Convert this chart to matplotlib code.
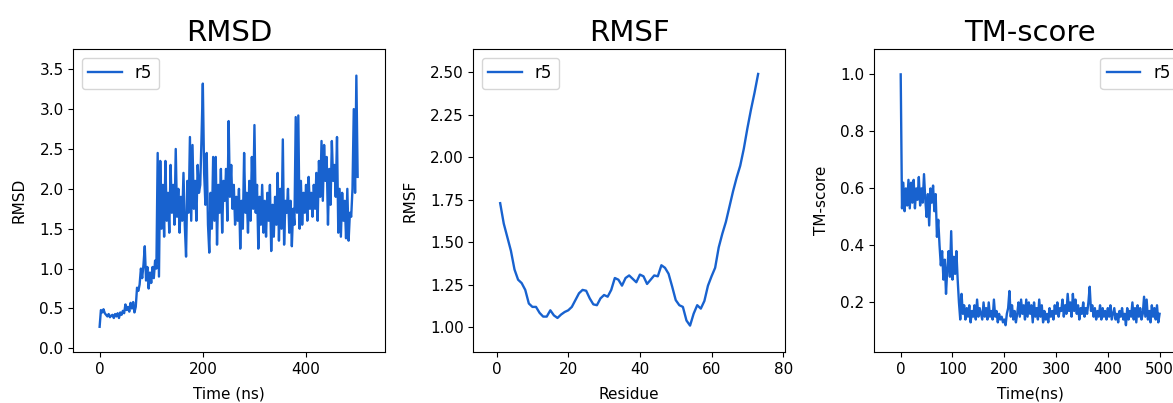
import numpy as np
import matplotlib
matplotlib.use("Agg")
import matplotlib.pyplot as plt

# ---------------- data ----------------
rmsd = [
    # 0 - 70 ns
    0.27, 0.48, 0.45, 0.49, 0.44, 0.42, 0.40, 0.43, 0.39, 0.41, 0.42, 0.38, 0.43, 0.40, 0.44,
    0.38, 0.45, 0.42, 0.47, 0.44, 0.55, 0.48, 0.52, 0.46, 0.57, 0.50, 0.58, 0.45, 0.52,
    # 72.5 - 110
    0.76, 0.72, 0.80, 1.00, 0.88, 1.05, 1.28, 0.85, 1.02, 0.75, 0.95, 0.82, 1.02, 0.88, 1.10, 1.00,
    # 112.5 - 160
    2.45, 0.90, 2.35, 1.50, 2.05, 1.40, 2.35, 1.60, 1.95, 1.45, 2.30, 1.70, 2.05, 1.55, 2.50,
    1.65, 2.00, 1.45, 1.90, 1.60,
    # 162.5 - 210
    2.20, 1.55, 1.15, 2.10, 1.70, 2.65, 1.60, 2.55, 1.75, 2.10, 1.60, 2.30, 1.95, 2.05, 2.65,
    3.32, 2.20, 1.80, 2.45, 1.55,
    # 212.5 - 260
    1.20, 1.95, 1.50, 2.40, 1.60, 2.40, 1.30, 2.05, 1.70, 2.25, 1.45, 2.10, 1.85, 2.25, 1.60,
    2.85, 1.90, 2.30, 1.75, 2.05,
    # 262.5 - 310
    1.55, 1.90, 1.60, 2.00, 1.25, 1.85, 1.50, 2.45, 1.70, 1.95, 1.45, 2.10, 1.60, 2.40, 1.75,
    2.80, 1.70, 2.05, 1.25, 1.90,
    # 312.5 - 360
    1.55, 2.05, 1.45, 1.85, 1.40, 1.95, 1.60, 2.05, 1.22, 1.80, 1.40, 1.90, 1.55, 2.20, 1.35,
    2.00, 1.50, 2.62, 1.30, 1.85,
    # 362.5 - 410
    1.70, 2.00, 1.45, 1.85, 1.28, 1.75, 1.55, 2.90, 1.70, 2.92, 1.50, 2.10, 1.55, 1.95, 1.70,
    2.05, 1.60, 2.15, 1.75, 1.95,
    # 412.5 - 460
    1.65, 2.05, 1.75, 2.20, 1.60, 2.35, 1.90, 2.60, 1.85, 2.55, 2.10, 2.40, 1.55, 2.25, 1.80,
    2.60, 2.10, 2.30, 1.90, 2.65,
    # 462.5 - 500
    1.45, 2.00, 1.40, 1.95, 1.60, 1.85, 1.38, 2.00, 1.35, 1.70, 1.65, 2.00, 3.00, 1.95, 3.42, 2.15,
]

rmsf = [
    1.73, 1.61, 1.53, 1.45, 1.34, 1.28, 1.26, 1.22, 1.14, 1.12,
    1.12, 1.085, 1.063, 1.063, 1.10, 1.07, 1.055, 1.075, 1.09, 1.10,
    1.12, 1.16, 1.20, 1.22, 1.215, 1.17, 1.135, 1.13, 1.17, 1.19,
    1.18, 1.22, 1.29, 1.28, 1.245, 1.29, 1.305, 1.285, 1.265, 1.31,
    1.30, 1.255, 1.28, 1.305, 1.30, 1.365, 1.35, 1.315, 1.24, 1.16,
    1.13, 1.12, 1.04, 1.01, 1.08, 1.13, 1.11, 1.155, 1.245, 1.30,
    1.35, 1.47, 1.55, 1.62, 1.71, 1.80, 1.88, 1.95, 2.05, 2.17,
    2.28, 2.38, 2.49,
]
residues = list(range(1, len(rmsf) + 1))

tmscore = [
    # 0 - 110 ns
    1.00, 0.53, 0.62, 0.52, 0.60, 0.54, 0.63, 0.53, 0.62, 0.55, 0.63, 0.53, 0.60, 0.56, 0.64,
    0.54, 0.60, 0.55, 0.65, 0.56, 0.50, 0.58, 0.47, 0.60, 0.55, 0.61, 0.52, 0.58, 0.43, 0.49,
    0.40, 0.33, 0.38, 0.28, 0.35, 0.23, 0.32, 0.38, 0.29, 0.45, 0.28, 0.36, 0.30, 0.38, 0.28,
    # 112.5 - 160
    0.20, 0.14, 0.23, 0.16, 0.19, 0.14, 0.18, 0.15, 0.19, 0.13, 0.17, 0.15, 0.19, 0.14, 0.21,
    0.15, 0.18, 0.16, 0.14, 0.20,
    # 162.5 - 210
    0.15, 0.18, 0.14, 0.20, 0.15, 0.17, 0.14, 0.21, 0.15, 0.17, 0.13, 0.16, 0.14, 0.15, 0.13,
    0.14, 0.12, 0.16, 0.18, 0.24,
    # 212.5 - 260
    0.15, 0.19, 0.14, 0.17, 0.13, 0.16, 0.20, 0.15, 0.21, 0.16, 0.19, 0.14, 0.21, 0.15, 0.20,
    0.16, 0.19, 0.13, 0.20, 0.15,
    # 262.5 - 310
    0.18, 0.14, 0.21, 0.15, 0.19, 0.13, 0.17, 0.14, 0.16, 0.13, 0.18, 0.15, 0.17, 0.14, 0.19,
    0.16, 0.20, 0.15, 0.18, 0.17,
    # 312.5 - 360
    0.21, 0.15, 0.19, 0.16, 0.23, 0.17, 0.20, 0.15, 0.23, 0.17, 0.21, 0.16, 0.19, 0.14, 0.18,
    0.16, 0.20, 0.15, 0.18, 0.16,
    # 362.5 - 410
    0.20, 0.255, 0.17, 0.19, 0.15, 0.18, 0.14, 0.17, 0.15, 0.19, 0.14, 0.18, 0.15, 0.17, 0.14,
    0.18, 0.15, 0.19, 0.14, 0.16,
    # 412.5 - 460
    0.18, 0.14, 0.16, 0.13, 0.17, 0.15, 0.18, 0.14, 0.16, 0.12, 0.18, 0.14, 0.17, 0.15, 0.20,
    0.14, 0.18, 0.13, 0.19, 0.15,
    # 462.5 - 500
    0.18, 0.14, 0.16, 0.22, 0.15, 0.21, 0.14, 0.17, 0.13, 0.19, 0.15, 0.18, 0.14, 0.19, 0.13, 0.16,
]

time_rmsd = np.linspace(0, 500, len(rmsd))
time_tm = np.linspace(0, 500, len(tmscore))

series_label = "r5"
color = "#1862CF"

# ---------------- figure ----------------
plt.rcParams["xtick.labelsize"] = 11
plt.rcParams["ytick.labelsize"] = 11
plt.rcParams["axes.labelsize"] = 11
plt.rcParams["legend.fontsize"] = 12

W, H = 1173, 403
fig = plt.figure(figsize=(W / 100, H / 100), dpi=100)

def px_axes(left, right, top=49.3, bottom=352.3):
    return fig.add_axes([left / W, (H - bottom) / H, (right - left) / W, (bottom - top) / H])

ax1 = px_axes(73.3, 385.0)
ax2 = px_axes(473.3, 785.0)
ax3 = px_axes(874.3, 1186.0)

title_fs = 21
lw = 1.7

ax1.plot(time_rmsd, rmsd, color=color, lw=lw, label=series_label)
ax1.set_xlim(-51, 553)
ax1.set_ylim(-0.05, 3.75)
ax1.set_xticks([0, 200, 400])
ax1.set_yticks([0.0, 0.5, 1.0, 1.5, 2.0, 2.5, 3.0, 3.5])
ax1.set_title("RMSD", fontsize=title_fs)
ax1.set_xlabel("Time (ns)", labelpad=7)
ax1.set_ylabel("RMSD", labelpad=9)
ax1.legend(loc="upper left")

ax2.plot(residues, rmsf, color=color, lw=lw, label=series_label)
ax2.set_xlim(-6.5, 80.5)
ax2.set_ylim(0.853, 2.635)
ax2.set_xticks([0, 20, 40, 60, 80])
ax2.set_yticks([1.00, 1.25, 1.50, 1.75, 2.00, 2.25, 2.50])
ax2.set_title("RMSF", fontsize=title_fs)
ax2.set_xlabel("Residue", labelpad=7)
ax2.set_ylabel("RMSF", labelpad=9)
ax2.legend(loc="upper left")

ax3.plot(time_tm, tmscore, color=color, lw=lw, label=series_label)
ax3.set_xlim(-51, 551)
ax3.set_ylim(0.025, 1.088)
ax3.set_xticks([0, 100, 200, 300, 400, 500])
ax3.set_yticks([0.2, 0.4, 0.6, 0.8, 1.0])
ax3.set_title("TM-score", fontsize=title_fs)
ax3.set_xlabel("Time(ns)", labelpad=7)
ax3.set_ylabel("TM-score", labelpad=8)
ax3.legend(loc="upper right")

fig.savefig("out.png", dpi=100)
